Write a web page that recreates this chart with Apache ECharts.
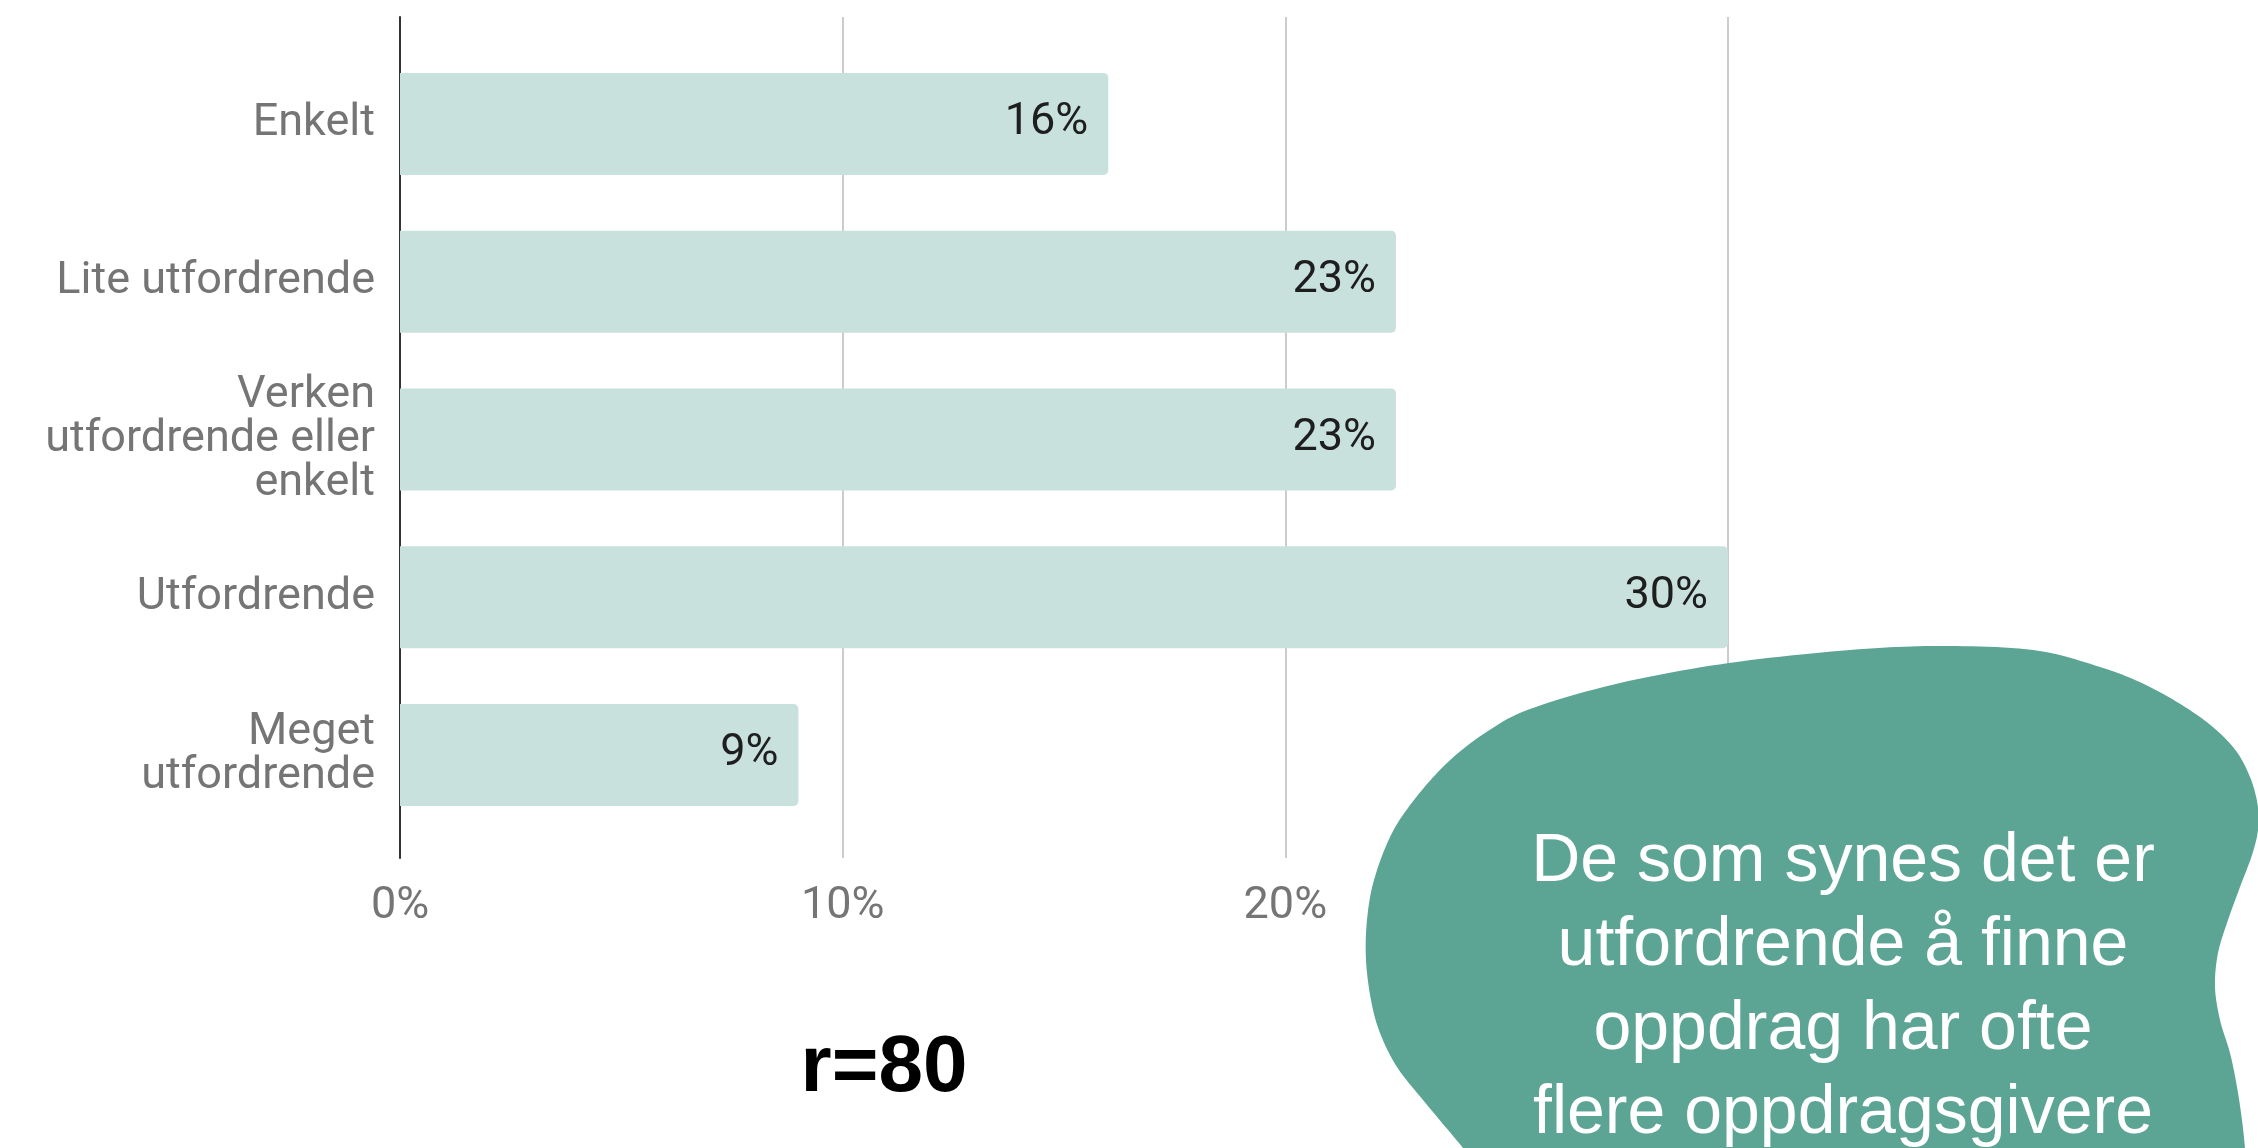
<!DOCTYPE html>
<html>
<head>
<meta charset="utf-8">
<title>Hvor utfordrende er det å finne oppdrag?</title>
<script src="https://cdn.jsdelivr.net/npm/echarts@6/dist/echarts.min.js"></script>
<style>
  html, body { margin: 0; padding: 0; background: #ffffff; }
  #chart { width: 2258px; height: 1148px; }
</style>
</head>
<body>
<div id="chart"></div>
<script>
// Answer categories, top to bottom
const categories = [
  'Enkelt',
  'Lite utfordrende',
  'Verken\nutfordrende eller\nenkelt',
  'Utfordrende',
  'Meget\nutfordrende'
];
// Share of respondents per answer, in percent
const shares = [16, 22.5, 22.5, 30, 9];
// Value-axis ticks, in percent
const tickValues = [0, 10, 20, 30];
// Number of respondents
const respondents = 80;
// Callout text
const noteLines = [
  'De som synes det er',
  'utfordrende å finne',
  'oppdrag har ofte',
  'flere oppdragsgivere'
];

// Outline of the callout blob (page pixels), smoothed below
const blobOutline = [
  [1480, 1170], [1463, 1148], [1423, 1100], [1397, 1067], [1380, 1033], [1371, 1000],
  [1366, 960], [1367, 920], [1374, 880], [1391, 835], [1414, 800], [1447, 763],
  [1485, 733], [1530, 709], [1620, 683], [1729, 663], [1850, 650], [1940, 646],
  [2033, 650], [2100, 667], [2150, 687], [2200, 717], [2233, 747], [2250, 777],
  [2258, 807], [2258, 830], [2252, 855], [2240, 887], [2228, 920], [2218, 953],
  [2215, 987], [2220, 1020], [2230, 1053], [2237, 1087], [2242, 1120], [2245, 1148],
  [2247, 1170]
];

// Catmull-Rom spline through the outline, sampled into a dense polygon
function smoothOutline(pts, steps) {
  const out = [];
  for (let i = 0; i < pts.length - 1; i++) {
    const p0 = pts[Math.max(i - 1, 0)];
    const p1 = pts[i];
    const p2 = pts[i + 1];
    const p3 = pts[Math.min(i + 2, pts.length - 1)];
    const c1 = [p1[0] + (p2[0] - p0[0]) / 6, p1[1] + (p2[1] - p0[1]) / 6];
    const c2 = [p2[0] - (p3[0] - p1[0]) / 6, p2[1] - (p3[1] - p1[1]) / 6];
    for (let s = 0; s < steps; s++) {
      const t = s / steps, u = 1 - t;
      const a = u * u * u, b = 3 * u * u * t, c = 3 * u * t * t, d = t * t * t;
      out.push([
        a * p1[0] + b * c1[0] + c * c2[0] + d * p2[0],
        a * p1[1] + b * c1[1] + c * c2[1] + d * p2[1]
      ]);
    }
  }
  const last = pts[pts.length - 1], first = pts[0];
  out.push(last, [last[0], 1220], [first[0], 1220]);
  return out;
}

const chart = echarts.init(document.getElementById('chart'), null, { renderer: 'canvas' });

const labelFont = 'Roboto';
const axisMin = tickValues[0];
const axisMax = tickValues[tickValues.length - 1];
const axisStep = tickValues[1] - tickValues[0];

chart.setOption({
  animation: false,
  backgroundColor: '#ffffff',
  grid: [
    { left: 400, top: 17, width: 1328, height: 841 },
    { left: 400, top: 45, width: 1328, height: 789 }
  ],
  xAxis: [
    {
      gridIndex: 0,
      type: 'value',
      min: axisMin,
      max: axisMax,
      interval: axisStep,
      axisLine: { show: false },
      axisTick: { show: false },
      splitLine: { show: true, lineStyle: { color: '#cccccc', width: 2 } },
      axisLabel: {
        formatter: '{value}%',
        color: '#757575',
        fontSize: 45,
        fontFamily: labelFont,
        margin: 26
      }
    },
    {
      gridIndex: 1,
      type: 'value',
      min: axisMin,
      max: axisMax,
      show: false
    }
  ],
  yAxis: [
    {
      gridIndex: 0,
      type: 'value',
      min: 0,
      max: 1,
      axisLine: { show: true, lineStyle: { color: '#333333', width: 2 } },
      axisTick: { show: false },
      axisLabel: { show: false },
      splitLine: { show: false }
    },
    {
      gridIndex: 1,
      type: 'category',
      data: categories,
      inverse: true,
      axisLine: { show: false },
      axisTick: { show: false },
      axisLabel: {
        color: '#757575',
        fontSize: 45,
        fontFamily: labelFont,
        lineHeight: 44,
        margin: 25,
        align: 'right'
      }
    }
  ],
  series: [
    {
      type: 'bar',
      xAxisIndex: 1,
      yAxisIndex: 1,
      data: shares,
      barWidth: 102,
      itemStyle: { color: '#c8e1dc', borderRadius: [0, 5, 5, 0] },
      label: {
        show: true,
        position: 'insideRight',
        distance: 20,
        offset: [0, -1],
        color: '#1e1e1e',
        fontSize: 45,
        fontFamily: labelFont,
        formatter: function (p) { return Math.round(p.value) + '%'; }
      }
    }
  ],
  graphic: [
    {
      type: 'polygon',
      z: 100,
      shape: { points: smoothOutline(blobOutline, 12) },
      style: { fill: '#5ca494' }
    },
    {
      type: 'text',
      z: 101,
      x: 1843,
      y: 988,
      style: {
        text: noteLines.join('\n'),
        fill: '#ffffff',
        fontSize: 68,
        fontFamily: '"Liberation Sans", Arial, sans-serif',
        lineHeight: 84,
        align: 'center',
        verticalAlign: 'middle'
      }
    },
    {
      type: 'text',
      z: 101,
      x: 884,
      y: 1069,
      style: {
        text: 'r=' + respondents,
        fill: '#000000',
        fontSize: 80,
        fontWeight: 'bold',
        fontFamily: '"Liberation Sans", Arial, sans-serif',
        align: 'center',
        verticalAlign: 'middle'
      }
    }
  ]
});
</script>
</body>
</html>
